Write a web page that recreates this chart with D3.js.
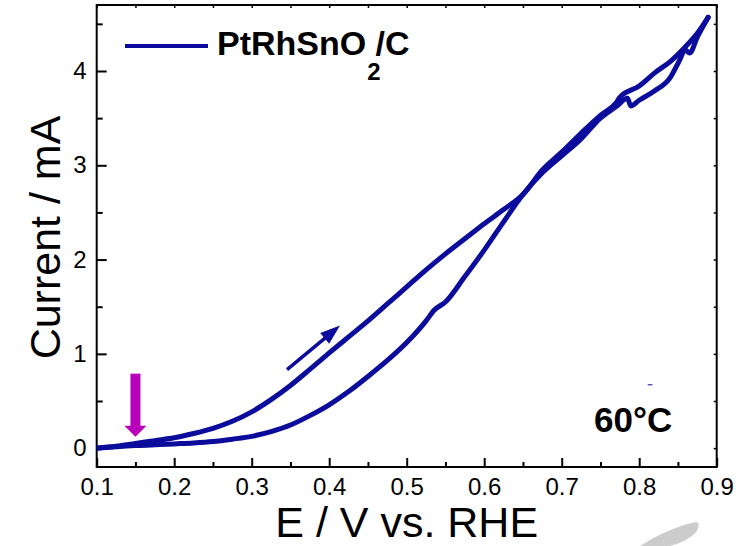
<!DOCTYPE html>
<html>
<head>
<meta charset="utf-8">
<script src="https://cdn.jsdelivr.net/npm/d3@7/dist/d3.min.js"></script>
<style>
  html, body { margin: 0; padding: 0; background: #fff; }
  svg { display: block; font-family: "Liberation Sans", Arial, sans-serif; }
</style>
</head>
<body>
<script>
// ---------- data ----------
const seriesName = "PtRhSnO";
const tempLabel = "60°C";
const xTicks = [0.1, 0.2, 0.3, 0.4, 0.5, 0.6, 0.7, 0.8, 0.9];
const xMinorTicks = [0.15, 0.25, 0.35, 0.45, 0.55, 0.65, 0.75, 0.85];
const yTicks = [0, 1, 2, 3, 4];
const yMinorTicks = [0.5, 1.5, 2.5, 3.5, 4.5];
const xTitle = "E / V vs. RHE";
const yTitle = "Current / mA";

// forward (anodic) scan
const forwardE = [0.10, 0.125, 0.15, 0.175, 0.20, 0.225, 0.25, 0.275, 0.30, 0.325, 0.35, 0.375, 0.40, 0.425, 0.45, 0.475, 0.50, 0.525, 0.55, 0.575, 0.60, 0.625, 0.65, 0.675, 0.70, 0.725, 0.75, 0.77, 0.775, 0.80, 0.82, 0.84, 0.86, 0.875, 0.889];
const forwardI = [0.00, 0.02, 0.05, 0.08, 0.11, 0.155, 0.21, 0.285, 0.385, 0.515, 0.665, 0.835, 1.01, 1.18, 1.35, 1.53, 1.71, 1.89, 2.06, 2.22, 2.38, 2.53, 2.69, 2.95, 3.14, 3.34, 3.53, 3.66, 3.72, 3.84, 3.98, 4.10, 4.26, 4.40, 4.57];
// reverse (cathodic) scan, listed in increasing E
const reverseE = [0.10, 0.125, 0.15, 0.175, 0.20, 0.225, 0.25, 0.275, 0.30, 0.325, 0.35, 0.375, 0.40, 0.425, 0.45, 0.475, 0.50, 0.525, 0.535, 0.55, 0.575, 0.60, 0.625, 0.65, 0.675, 0.70, 0.725, 0.75, 0.77, 0.785, 0.789, 0.80, 0.82, 0.84, 0.85, 0.86, 0.865, 0.875, 0.889];
const reverseI = [0.00, 0.015, 0.027, 0.035, 0.045, 0.055, 0.07, 0.095, 0.125, 0.175, 0.245, 0.345, 0.46, 0.60, 0.76, 0.93, 1.12, 1.35, 1.46, 1.55, 1.82, 2.10, 2.40, 2.69, 2.92, 3.10, 3.28, 3.50, 3.62, 3.71, 3.63, 3.69, 3.79, 3.93, 4.08, 4.22, 4.19, 4.36, 4.57];

// scan-direction arrow and marker arrow (data coordinates)
const scanArrowE = [0.3456, 0.414];
const scanArrowI = [0.833, 1.30];
const markerE = 0.15;
const markerI = [0.79, 0.12];

// ---------- layout ----------
const W = 741, H = 546;
const mLeft = 96.7, mRight = 716.7, mTop = 5, mBottom = 467;
const blue = "#0b0b9c";
const magenta = "#b800b8";

const svg = d3.select("body").append("svg").attr("width", W).attr("height", H);

const x = d3.scaleLinear().domain([0.1, 0.9]).range([mLeft, mRight]);
const y = d3.scaleLinear().domain([-0.2, 4.7]).range([mBottom, mTop]);

// ---------- axes ----------
const fmtX = d3.format(".1f");
svg.append("g").attr("transform", `translate(0,${mBottom})`)
  .call(d3.axisBottom(x).tickValues(xTicks).tickSize(-9).tickPadding(11).tickFormat(fmtX))
  .call(g => g.select(".domain").remove())
  .call(g => g.selectAll("line").attr("stroke", "#000").attr("stroke-width", 2))
  .call(g => g.selectAll("text").attr("font-size", 24).attr("fill", "#000").attr("font-family", "Liberation Sans, Arial"));
svg.append("g").attr("transform", `translate(0,${mBottom})`)
  .call(d3.axisBottom(x).tickValues(xMinorTicks).tickSize(-5).tickFormat(""))
  .call(g => g.select(".domain").remove())
  .call(g => g.selectAll("line").attr("stroke", "#000").attr("stroke-width", 2));

svg.append("g").attr("transform", `translate(${mLeft},0)`)
  .call(d3.axisLeft(y).tickValues(yTicks).tickSize(-10).tickPadding(10).tickFormat(d3.format("d")))
  .call(g => g.select(".domain").remove())
  .call(g => g.selectAll("line").attr("stroke", "#000").attr("stroke-width", 2))
  .call(g => g.selectAll("text").attr("font-size", 24).attr("fill", "#000").attr("font-family", "Liberation Sans, Arial"));
svg.append("g").attr("transform", `translate(${mLeft},0)`)
  .call(d3.axisLeft(y).tickValues(yMinorTicks).tickSize(-6).tickFormat(""))
  .call(g => g.select(".domain").remove())
  .call(g => g.selectAll("line").attr("stroke", "#000").attr("stroke-width", 2));

// mirrored top & right ticks (short)
svg.append("g").attr("transform", `translate(0,${mTop})`)
  .call(d3.axisTop(x).tickValues(xTicks.concat(xMinorTicks)).tickSize(-3).tickFormat(""))
  .call(g => g.select(".domain").remove())
  .call(g => g.selectAll("line").attr("stroke", "#000").attr("stroke-width", 1.5));
svg.append("g").attr("transform", `translate(${mRight},0)`)
  .call(d3.axisRight(y).tickValues(yTicks.concat(yMinorTicks)).tickSize(-3).tickFormat(""))
  .call(g => g.select(".domain").remove())
  .call(g => g.selectAll("line").attr("stroke", "#000").attr("stroke-width", 1.5));

// frame
svg.append("rect").attr("x", mLeft).attr("y", mTop).attr("width", mRight - mLeft).attr("height", mBottom - mTop)
  .attr("fill", "none").attr("stroke", "#000").attr("stroke-width", 2);

// ---------- curves ----------
const line = d3.line().x(d => x(d[0])).y(d => y(d[1])).curve(d3.curveMonotoneX);
const fwd = forwardE.map((e, i) => [e, forwardI[i]]);
const rev = reverseE.map((e, i) => [e, reverseI[i]]);
const clipId = "plotclip";
svg.append("clipPath").attr("id", clipId).append("rect")
  .attr("x", mLeft).attr("y", mTop).attr("width", mRight - mLeft).attr("height", mBottom - mTop);
const plot = svg.append("g").attr("clip-path", `url(#${clipId})`);
[rev, fwd].forEach(d => {
  plot.append("path").attr("d", line(d)).attr("fill", "none").attr("stroke", blue)
    .attr("stroke-width", 5).attr("stroke-linejoin", "round").attr("stroke-linecap", "round");
});

// ---------- scan-direction arrow ----------
{
  const x0 = x(scanArrowE[0]), y0 = y(scanArrowI[0]);
  const x1 = x(scanArrowE[1]), y1 = y(scanArrowI[1]);
  const ang = Math.atan2(y1 - y0, x1 - x0);
  const hl = 20, hw = 7;
  const bx = x1 - hl * Math.cos(ang), by = y1 - hl * Math.sin(ang);
  svg.append("line").attr("x1", x0).attr("y1", y0).attr("x2", bx + 2 * Math.cos(ang)).attr("y2", by + 2 * Math.sin(ang))
    .attr("stroke", blue).attr("stroke-width", 3.5);
  const px = -Math.sin(ang), py = Math.cos(ang);
  svg.append("path").attr("d", `M${x1},${y1}L${bx + hw * px},${by + hw * py}L${bx - hw * px},${by - hw * py}Z`)
    .attr("fill", blue);
}

// ---------- magenta marker arrow ----------
{
  const cx = x(markerE), yt = y(markerI[0]), tip = y(markerI[1]);
  const hl = 11, sw = 10, hw = 11;
  svg.append("rect").attr("x", cx - sw / 2).attr("y", yt).attr("width", sw).attr("height", tip - hl - yt + 1)
    .attr("fill", magenta);
  svg.append("path").attr("d", `M${cx - hw},${tip - hl}L${cx + hw},${tip - hl}L${cx},${tip}Z`).attr("fill", magenta);
}

// tiny stray mark
svg.append("line").attr("x1", x(0.811)).attr("y1", y(0.672)).attr("x2", x(0.817)).attr("y2", y(0.672))
  .attr("stroke", blue).attr("stroke-width", 1);

// ---------- legend ----------
svg.append("line").attr("x1", 125).attr("x2", 208).attr("y1", 46).attr("y2", 46)
  .attr("stroke", blue).attr("stroke-width", 4);
const lt = svg.append("text").attr("x", 217).attr("y", 55).attr("font-size", 34).attr("font-weight", "bold").attr("fill", "#000");
lt.append("tspan").text(seriesName);
lt.append("tspan").attr("font-size", 24).attr("dy", 25).attr("dx", 1).text("2");
lt.append("tspan").attr("dy", -25).attr("dx", -5).text("/C");

// temperature label
svg.append("text").attr("x", 594).attr("y", 432).attr("font-size", 35).attr("font-weight", "bold")
  .attr("fill", "#000").text(tempLabel);

// ---------- axis titles ----------
svg.append("text").attr("x", (mLeft + mRight) / 2).attr("y", 537).attr("text-anchor", "middle")
  .attr("font-size", 43).attr("fill", "#000").text(xTitle);
svg.append("text").attr("transform", `translate(60,${237.5}) rotate(-90)`).attr("text-anchor", "middle")
  .attr("font-size", 43).attr("fill", "#000").text(yTitle);

// ---------- watermark swoosh ----------
svg.append("path")
  .attr("d", "M640,546 C656,536 676,526 696,522 C700,522 699,528 696,532 C691,538 681,543 670,546 Z")
  .attr("fill", "#cccccc");
</script>
</body>
</html>
